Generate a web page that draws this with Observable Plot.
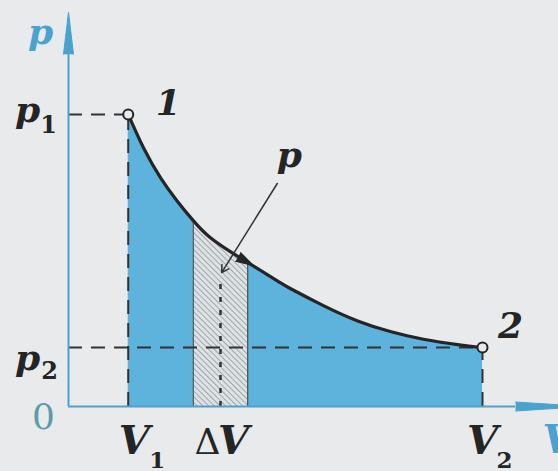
<!DOCTYPE html>
<html><head><meta charset="utf-8">
<script src="https://cdn.jsdelivr.net/npm/d3@7"></script>
<script src="https://cdn.jsdelivr.net/npm/@observablehq/plot@0.6"></script>
<style>html,body{margin:0;padding:0;background:#e8eaec;} svg{display:block}</style>
</head><body><div id="chart"></div>
<script>
// Isotherm 1 -> 2 (V, p in arbitrary units)
const curveV = [1.01, 1.27, 1.56, 1.84, 2.11, 2.40, 2.79, 3.08, 3.53, 3.75, 4.31, 4.89, 5.44, 6.00, 6.58, 7.00];
const curveP = [4.95, 4.38, 3.87, 3.48, 3.15, 2.86, 2.59, 2.41, 2.13, 2.00, 1.71, 1.45, 1.27, 1.14, 1.05, 1.00];
const stateV = [1.01, 7.00];          // V1, V2
const stateP = [4.95, 1.00];          // p1, p2
const stateNames = ["1", "2"];
const stripV = [2.11, 3.03];          // edges of the ΔV strip
const stripP = [3.15, 2.45];          // p on the curve at those edges
const midV = [2.57];                  // dotted middle line of the strip
const midTopP = [2.2];
const flowV = [3.0];                  // direction marker on the curve
const flowP = [2.46];
const leaderV = [3.53, 2.59];         // leader from label "p"
const leaderP = [3.78, 2.27];
const axisEndV = [7.56];
const axisEndP = [5.97];

const curve = curveV.map((v, i) => ({V: v, p: curveP[i]}));
const BG = "#e8eaec", BLUE = "#5db3dc", AX = "#4aa2cf", INK = "#252525";
const serif = "DejaVu Serif";
const T = (data, opts) => Plot.text(data, {text: d => d, lineAnchor: "bottom", textAnchor: "middle",
  fontFamily: serif, fill: INK, ...opts});
const BI = {fontStyle: "italic", fontWeight: "bold"};

const plot = Plot.plot({
  width: 558, height: 471, margin: 0,
  style: {background: BG, fontFamily: serif},
  x: {domain: [0, 7], range: [68, 482], axis: null},
  y: {domain: [0, 1], range: [406, 347], axis: null},
  marks: [
    Plot.areaY(curve, {x: "V", y: "p", curve: "natural", fill: BLUE}),
    Plot.areaY(curve, {x: "V", y: "p", curve: "natural", fill: "#dde2e5"}),
    Plot.ruleX(stripV, {x: d => d, y1: 0, y2: (d, i) => stripP[i], stroke: "#4a4f52", strokeWidth: 1.2}),
    Plot.ruleX(midV, {x: d => d, y1: 0, y2: (d, i) => midTopP[i], stroke: "#333", strokeWidth: 2.5, strokeDasharray: "5,8"}),
    Plot.ruleY(stateP, {y: d => d, x1: 0, x2: (d, i) => stateV[i], stroke: "#333", strokeWidth: 2, strokeDasharray: "14,9"}),
    Plot.ruleX(stateV, {x: d => d, y1: 0, y2: (d, i) => stateP[i], stroke: "#333", strokeWidth: 2, strokeDasharray: "14,9"}),
    // axes
    Plot.ruleY([0], {x1: 0, x2: axisEndV[0], stroke: AX, strokeWidth: 2}),
    Plot.ruleX([0], {y1: 0, y2: axisEndP[0], stroke: AX, strokeWidth: 2}),
    Plot.vector(axisEndV, {x: d => d, y: 0, rotate: 90, length: 70, r: 4.5, anchor: "start", shape: "spike", fill: AX, stroke: AX, strokeWidth: 1}),
    Plot.vector(axisEndP, {x: 0, y: d => d, rotate: 0, length: 42, r: 5, anchor: "start", shape: "spike", fill: AX, stroke: AX, strokeWidth: 1}),
    // isotherm
    Plot.line(curve, {x: "V", y: "p", curve: "natural", stroke: INK, strokeWidth: 3.2}),
    Plot.vector(flowV, {x: d => d, y: (d, i) => flowP[i], rotate: 120, length: 18, r: 5, anchor: "middle", shape: "spike", fill: INK, stroke: INK, strokeWidth: 1}),
    Plot.arrow([0], {x1: leaderV[0], y1: leaderP[0], x2: leaderV[1], y2: leaderP[1], stroke: "#333", strokeWidth: 1.5, headLength: 8}),
    Plot.dot(stateNames, {x: (d, i) => stateV[i], y: (d, i) => stateP[i], r: 5, fill: BG, stroke: INK, strokeWidth: 2}),
    // labels
    T(["p"], {x: 0, y: axisEndP[0], dx: -28, dy: -10, fontSize: 36, ...BI, fill: AX}),
    T(["V"], {x: axisEndV[0], y: 0, dx: 27, dy: 46, textAnchor: "start", fontSize: 40, ...BI, fill: AX}),
    T(["0"], {x: 0, y: 0, dx: -25, dy: 22, fontSize: 36, fill: "#5a9ca8"}),
    T(["1"], {x: stateV[0], y: stateP[0], dx: 40, dy: 1, fontSize: 36, ...BI}),
    T(["2"], {x: stateV[1], y: stateP[1], dx: 28, dy: -10, fontSize: 36, ...BI}),
    T(["p"], {x: 0, y: stateP[0], dx: -41, dy: 8, fontSize: 36, ...BI}),
    T(["1"], {x: 0, y: stateP[0], dx: -20, dy: 19, fontSize: 24, fontWeight: "bold"}),
    T(["p"], {x: 0, y: stateP[1], dx: -41, dy: 22, fontSize: 36, ...BI}),
    T(["2"], {x: 0, y: stateP[1], dx: -19, dy: 31, fontSize: 24, fontWeight: "bold"}),
    T(["p"], {x: leaderV[0], y: leaderP[0], dx: 12, dy: -16, fontSize: 36, ...BI}),
    T(["V"], {x: stateV[0], y: 0, dx: 6, dy: 47, fontSize: 40, ...BI}),
    T(["1"], {x: stateV[0], y: 0, dx: 29, dy: 61, fontSize: 23, fontWeight: "bold"}),
    T(["Δ"], {x: midV[0], y: 0, dx: -13, dy: 47, fontSize: 36}),
    T(["V"], {x: midV[0], y: 0, dx: 13, dy: 47, fontSize: 40, ...BI}),
    T(["V"], {x: stateV[1], y: 0, dx: 0, dy: 47, fontSize: 40, ...BI}),
    T(["2"], {x: stateV[1], y: 0, dx: 22, dy: 61, fontSize: 23, fontWeight: "bold"})
  ]
});

// hatch pattern and clip for the ΔV strip (second area mark)
const xs = plot.scale("x");
const svg = d3.select(plot);
const defs = svg.insert("defs", ":first-child");
const pat = defs.append("pattern").attr("id", "hatch").attr("patternUnits", "userSpaceOnUse")
  .attr("width", 4).attr("height", 4).attr("patternTransform", "rotate(-45)");
pat.append("rect").attr("width", 4).attr("height", 4).attr("fill", "#dde2e5");
pat.append("line").attr("x1", 0.5).attr("y1", 0).attr("x2", 0.5).attr("y2", 4)
  .attr("stroke", "#98a0a5").attr("stroke-width", 0.9);
defs.append("clipPath").attr("id", "stripclip").append("rect")
  .attr("x", xs.apply(stripV[0])).attr("y", 0)
  .attr("width", xs.apply(stripV[1]) - xs.apply(stripV[0])).attr("height", 471);
const areas = svg.selectAll('g[aria-label="area"]').nodes();
const strip = d3.select(areas[1]);
strip.attr("clip-path", "url(#stripclip)").attr("fill", "url(#hatch)");
strip.selectAll("path").attr("fill", null);
document.getElementById("chart").appendChild(plot);
</script>
</body></html>
